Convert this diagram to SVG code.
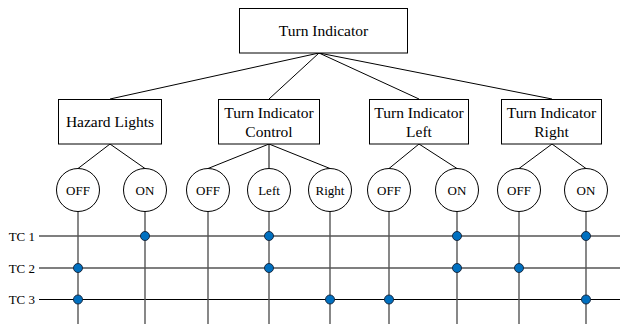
<svg xmlns="http://www.w3.org/2000/svg" width="620" height="324" viewBox="0 0 620 324">
  <style>
    .box { fill: #ffffff; stroke: #000000; stroke-width: 1; }
    .state { fill: #ffffff; stroke: #000000; stroke-width: 1; }
    text { font-family: 'Liberation Serif', 'Times New Roman', Times, serif; fill: #000000; }
    .lbl { font-size: 15.5px; text-anchor: middle; }
    .slbl { font-size: 13px; text-anchor: middle; }
    .tc { font-size: 13px; text-anchor: end; }
    .edge { stroke: #000000; stroke-width: 1; fill: none; }
    .bus { stroke: #000000; stroke-width: 1.2; fill: none; }
    .drop { stroke: #555555; stroke-width: 1.4; fill: none; }
    .dot { fill: #0070c0; stroke: #1a2a40; stroke-width: 1; }
  </style>

  <!-- tree connectors -->
  <g id="connectors">
    <line class="edge" x1="319" y1="53" x2="110" y2="99"/>
    <line class="edge" x1="319" y1="53" x2="269" y2="99"/>
    <line class="edge" x1="319" y1="53" x2="419" y2="99"/>
    <line class="edge" x1="319" y1="53" x2="552" y2="99"/>

    <line class="edge" x1="110" y1="144" x2="78" y2="168.5"/>
    <line class="edge" x1="110" y1="144" x2="145" y2="168.5"/>

    <line class="edge" x1="269" y1="144" x2="208" y2="168.5"/>
    <line class="edge" x1="269" y1="144" x2="269" y2="168.5"/>
    <line class="edge" x1="269" y1="144" x2="330" y2="168.5"/>

    <line class="edge" x1="419" y1="144" x2="389" y2="168.5"/>
    <line class="edge" x1="419" y1="144" x2="457" y2="168.5"/>

    <line class="edge" x1="552" y1="144" x2="519" y2="168.5"/>
    <line class="edge" x1="552" y1="144" x2="586" y2="168.5"/>
  </g>

  <!-- test-case buses and state drops -->
  <g id="matrix">
    <line class="bus" x1="39" y1="236" x2="620" y2="236"/>
    <line class="bus" x1="39" y1="268" x2="620" y2="268"/>
    <line class="bus" x1="39" y1="299.5" x2="620" y2="299.5"/>

    <line class="drop" x1="78" y1="211" x2="78" y2="324"/>
    <line class="drop" x1="145" y1="211" x2="145" y2="324"/>
    <line class="drop" x1="208" y1="211" x2="208" y2="324"/>
    <line class="drop" x1="269" y1="211" x2="269" y2="324"/>
    <line class="drop" x1="330" y1="211" x2="330" y2="324"/>
    <line class="drop" x1="389" y1="211" x2="389" y2="324"/>
    <line class="drop" x1="457" y1="211" x2="457" y2="324"/>
    <line class="drop" x1="519" y1="211" x2="519" y2="324"/>
    <line class="drop" x1="586" y1="211" x2="586" y2="324"/>

    <text class="tc" x="35" y="240.5">TC 1</text>
    <text class="tc" x="35" y="272.5">TC 2</text>
    <text class="tc" x="35" y="304">TC 3</text>
  </g>

  <g id="selections">
    <circle class="dot" cx="145" cy="236" r="4.5"/>
    <circle class="dot" cx="269" cy="236" r="4.5"/>
    <circle class="dot" cx="457" cy="236" r="4.5"/>
    <circle class="dot" cx="586" cy="236" r="4.5"/>

    <circle class="dot" cx="78" cy="268" r="4.5"/>
    <circle class="dot" cx="269" cy="268" r="4.5"/>
    <circle class="dot" cx="457" cy="268" r="4.5"/>
    <circle class="dot" cx="519" cy="268" r="4.5"/>

    <circle class="dot" cx="78" cy="299.5" r="4.5"/>
    <circle class="dot" cx="330" cy="299.5" r="4.5"/>
    <circle class="dot" cx="389" cy="299.5" r="4.5"/>
    <circle class="dot" cx="586" cy="299.5" r="4.5"/>
  </g>

  <!-- classification boxes -->
  <g id="turn-indicator">
    <rect class="box" x="239.5" y="8.5" width="168" height="44.5"/>
    <text class="lbl" x="323.5" y="36">Turn Indicator</text>
  </g>
  <g id="hazard-lights">
    <rect class="box" x="58.5" y="99.5" width="103" height="44.5"/>
    <text class="lbl" x="110" y="127">Hazard Lights</text>
  </g>
  <g id="ti-control">
    <rect class="box" x="218.5" y="99.5" width="101" height="44.5"/>
    <text class="lbl" x="269" y="118">Turn Indicator</text>
    <text class="lbl" x="269" y="137">Control</text>
  </g>
  <g id="ti-left">
    <rect class="box" x="369.5" y="99.5" width="99" height="44.5"/>
    <text class="lbl" x="419" y="118">Turn Indicator</text>
    <text class="lbl" x="419" y="137">Left</text>
  </g>
  <g id="ti-right">
    <rect class="box" x="501.5" y="99.5" width="100" height="44.5"/>
    <text class="lbl" x="551.5" y="118">Turn Indicator</text>
    <text class="lbl" x="551.5" y="137">Right</text>
  </g>

  <!-- classes -->
  <g id="hl-off"><circle class="state" cx="78" cy="190" r="21.5"/><text class="slbl" x="78" y="194.5">OFF</text></g>
  <g id="hl-on"><circle class="state" cx="145" cy="190" r="21.5"/><text class="slbl" x="145" y="194.5">ON</text></g>
  <g id="tic-off"><circle class="state" cx="208" cy="190" r="21.5"/><text class="slbl" x="208" y="194.5">OFF</text></g>
  <g id="tic-left"><circle class="state" cx="269" cy="190" r="21.5"/><text class="slbl" x="269" y="194.5">Left</text></g>
  <g id="tic-right"><circle class="state" cx="330" cy="190" r="21.5"/><text class="slbl" x="330" y="194.5">Right</text></g>
  <g id="til-off"><circle class="state" cx="389" cy="190" r="21.5"/><text class="slbl" x="389" y="194.5">OFF</text></g>
  <g id="til-on"><circle class="state" cx="457" cy="190" r="21.5"/><text class="slbl" x="457" y="194.5">ON</text></g>
  <g id="tir-off"><circle class="state" cx="519" cy="190" r="21.5"/><text class="slbl" x="519" y="194.5">OFF</text></g>
  <g id="tir-on"><circle class="state" cx="586" cy="190" r="21.5"/><text class="slbl" x="586" y="194.5">ON</text></g>
</svg>
